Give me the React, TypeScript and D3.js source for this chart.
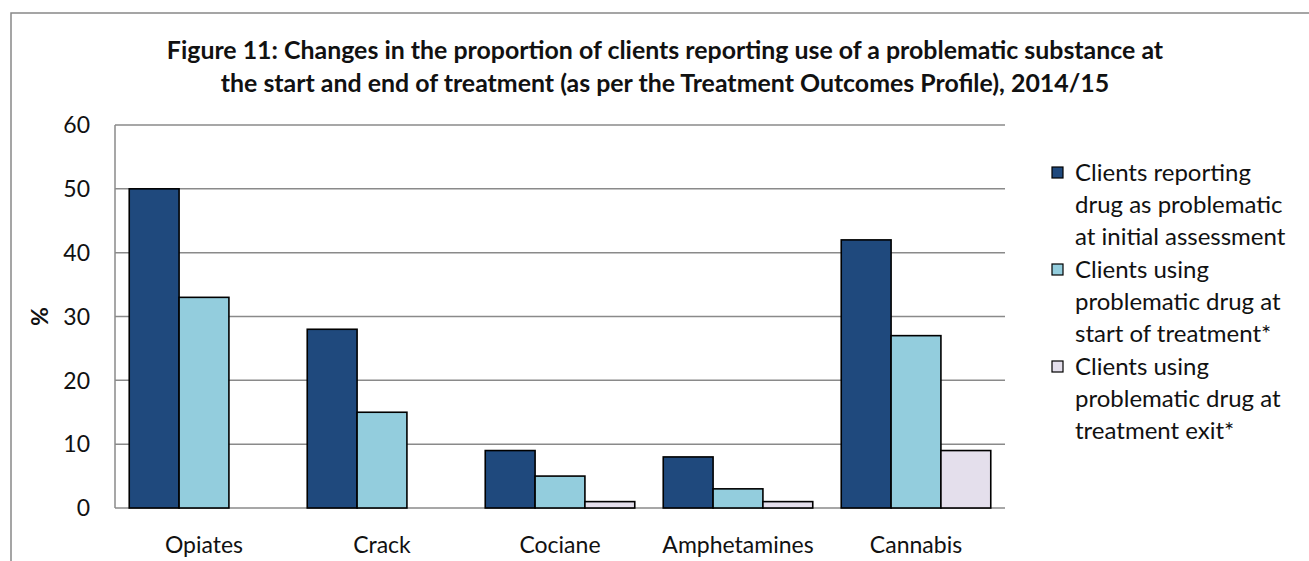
import React from "react";
import * as d3 from "d3";

const categories = ["Opiates", "Crack", "Cociane", "Amphetamines", "Cannabis"];
const initialAssessment = [50, 28, 9, 8, 42];
const startOfTreatment = [33, 15, 5, 3, 27];
const treatmentExit = [0, 0, 1, 1, 9];
const seriesNames = [
  ["Clients reporting", "drug as problematic", "at initial assessment"],
  ["Clients using", "problematic drug at", "start of treatment*"],
  ["Clients using", "problematic drug at", "treatment exit*"],
];
const seriesColors = ["#1F497D", "#93CDDD", "#E4DFEC"];
const yTicks = [0, 10, 20, 30, 40, 50, 60];
const titleLines = [
  "Figure 11: Changes in the proportion of clients reporting use of a problematic substance at",
  "the start and end of treatment (as per the Treatment Outcomes Profile), 2014/15",
];

const W = 1309;
const H = 561;
const plot = { left: 115, right: 1005, top: 125, bottom: 508 };
const FONT = "Lato, 'Open Sans', sans-serif";

export default function App() {
  const series = [initialAssessment, startOfTreatment, treatmentExit];
  const x0 = d3
    .scaleBand<string>()
    .domain(categories)
    .range([plot.left, plot.right])
    .paddingInner(0.16)
    .paddingOuter(0.08);
  const x1 = d3
    .scaleBand<number>()
    .domain([0, 1, 2])
    .range([0, x0.bandwidth()]);
  const y = d3.scaleLinear().domain([0, 60]).range([plot.bottom, plot.top]);

  return (
    <svg
      width={W}
      height={H}
      style={{ position: "absolute", left: 0, top: 0, background: "#fff" }}
    >
      <rect x={11} y={13} width={W} height={H} fill="#fff" stroke="#888" strokeWidth={1.5} />
      {titleLines.map((t, i) => (
        <text
          key={i}
          x={665}
          y={59 + i * 33}
          textAnchor="middle"
          fontFamily={FONT}
          fontWeight="bold"
          fontSize={24.9}
          fill="#111"
        >
          {t}
        </text>
      ))}
      {yTicks.map((t) => (
        <g key={t}>
          <line
            x1={plot.left}
            x2={plot.right}
            y1={y(t)}
            y2={y(t)}
            stroke="#8a8a8a"
            strokeWidth={1.5}
          />
          <text
            x={90}
            y={y(t)}
            dy="0.36em"
            textAnchor="end"
            fontFamily={FONT}
            fontSize={23}
            fill="#111"
          >
            {t}
          </text>
        </g>
      ))}
      <line x1={plot.left} x2={plot.left} y1={plot.top} y2={plot.bottom} stroke="#8a8a8a" strokeWidth={1.5} />
      <text
        transform={`translate(48,${(plot.top + plot.bottom) / 2}) rotate(-90)`}
        textAnchor="middle"
        fontFamily={FONT}
        fontWeight="bold"
        fontSize={23}
        fill="#111"
      >
        %
      </text>
      {categories.map((c, ci) => (
        <g key={c} transform={`translate(${x0(c)},0)`}>
          {series.map((s, si) =>
            s[ci] > 0 ? (
              <rect
                key={si}
                x={x1(si)}
                y={y(s[ci])}
                width={x1.bandwidth()}
                height={y(0) - y(s[ci])}
                fill={seriesColors[si]}
                stroke="#000"
                strokeWidth={1.6}
              />
            ) : null
          )}
          <text
            x={x0.bandwidth() / 2}
            y={553}
            textAnchor="middle"
            fontFamily={FONT}
            fontSize={23}
            fill="#111"
          >
            {c}
          </text>
        </g>
      ))}
      {seriesNames.map((lines, si) => (
        <g key={si} transform={`translate(1052,${172 + si * 97})`}>
          <rect x={0} y={-5} width={11} height={11} fill={seriesColors[si]} stroke="#000" strokeWidth={1.2} />
          {lines.map((l, li) => (
            <text
              key={li}
              x={23}
              y={li * 32}
              dy="0.36em"
              fontFamily={FONT}
              fontSize={24}
              fill="#111"
            >
              {l}
            </text>
          ))}
        </g>
      ))}
    </svg>
  );
}
